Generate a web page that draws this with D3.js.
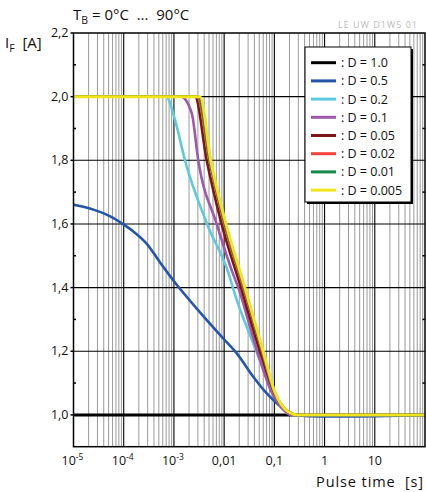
<!DOCTYPE html>
<html>
<head>
<meta charset="utf-8">
<script src="https://d3js.org/d3.v7.min.js"></script>
<style>
  body { margin: 0; background: #fff; }
  text { font-family: "Open Sans", "DejaVu Sans", sans-serif; fill: #111; white-space: pre; }
</style>
</head>
<body>
<script>
// pulse time [s] / forward current [A]
var d10 = [[1e-5, 1.0], [100, 1.0]];
var d05 = [[1e-5, 1.66], [2.5e-5, 1.645], [5.4e-5, 1.624], [1e-4, 1.598], [1.6e-4, 1.575],
  [2.8e-4, 1.54], [5.3e-4, 1.479], [1e-3, 1.42], [3.85e-3, 1.31], [9.6e-3, 1.24],
  [0.0177, 1.194], [0.038, 1.12], [0.07, 1.068], [0.111, 1.037], [0.175, 1.01], [0.26, 1.0], [100, 1.0]];
var d02 = [[1e-5, 2.0], [7.0e-4, 2.0], [1.05e-3, 1.927], [1.66e-3, 1.80], [4.57e-3, 1.60],
  [0.0129, 1.434], [0.0152, 1.395], [0.038, 1.225], [0.07, 1.12],
  [0.0946, 1.068], [0.139, 1.026], [0.223, 1.0], [0.3, 1.0]];
var d01 = [[1e-5, 2.0], [1.38e-3, 2.0], [2.26e-3, 1.948], [3.05e-3, 1.80], [7.1e-3, 1.60],
  [0.0141, 1.455], [0.0191, 1.40], [0.0455, 1.20], [0.089, 1.07], [0.128, 1.03], [0.223, 1.0], [0.3, 1.0]];
var d005 = [[1e-5, 2.0], [2.63e-3, 2.0], [4.49e-3, 1.80], [8.9e-3, 1.60], [0.0216, 1.40],
  [0.0515, 1.20], [0.1, 1.07], [0.188, 1.01], [0.28, 1.0], [0.3, 1.0]];
var d002 = [[1e-5, 2.0], [2.92e-3, 2.0], [5.06e-3, 1.80], [0.01, 1.60], [0.0241, 1.40],
  [0.0565, 1.20], [0.1, 1.072], [0.188, 1.01], [0.29, 1.0], [0.3, 1.0]];
var d001 = [[1e-5, 2.0], [3.1e-3, 2.0], [5.2e-3, 1.80], [0.0104, 1.60], [0.025, 1.40],
  [0.058, 1.20], [0.1, 1.073], [0.188, 1.01], [0.29, 1.0], [0.3, 1.0]];
var d0005 = [[1e-5, 2.0], [3.3e-3, 2.0], [5.4e-3, 1.80], [0.01087, 1.60], [0.0259, 1.40],
  [0.0598, 1.20], [0.102, 1.073], [0.188, 1.01], [0.293, 1.0], [100, 1.0]];

var seriesNames = ["D = 1.0", "D = 0.5", "D = 0.2", "D = 0.1", "D = 0.05", "D = 0.02", "D = 0.01", "D = 0.005"];
var seriesData = [d10, d05, d02, d01, d005, d002, d001, d0005];
var seriesColors = ["#000000", "#2455a8", "#5ccbdd", "#9e59ad", "#7b1518", "#f0413a", "#168a48", "#f2e41c"];

var yTicks = [1.0, 1.2, 1.4, 1.6, 1.8, 2.0, 2.2];
var yMinor = [1.1, 1.3, 1.5, 1.7, 1.9, 2.1];
var xDecades = [1e-5, 1e-4, 1e-3, 0.01, 0.1, 1, 10, 100];
var xLabels = [["10", "-5"], ["10", "-4"], ["10", "-3"], ["0,01", ""], ["0,1", ""], ["1", ""], ["10", ""]];

var W = 426, H = 492;
var pL = 73.5, pR = 425, pT = 33, pB = 446.7;

var svg = d3.select("body").append("svg")
  .attr("width", W).attr("height", H);

var x = d3.scaleLog().domain([1e-5, 100]).range([pL, pR]);
var y = d3.scaleLinear().domain([0.9, 2.2]).range([pB, pT]);

// minor vertical grid
var minor = [];
xDecades.slice(0, -1).forEach(function(d) {
  for (var k = 2; k <= 9; k++) minor.push(d * k);
});
svg.append("g").selectAll("line").data(minor).enter().append("line")
  .attr("x1", function(d) { return x(d); }).attr("x2", function(d) { return x(d); })
  .attr("y1", pT).attr("y2", pB)
  .attr("stroke", "#9a9a9a").attr("stroke-width", 1);

// decade lines
svg.append("g").selectAll("line").data(xDecades.slice(1, -1)).enter().append("line")
  .attr("x1", function(d) { return x(d); }).attr("x2", function(d) { return x(d); })
  .attr("y1", pT).attr("y2", pB)
  .attr("stroke", "#000").attr("stroke-width", 1.1);

// horizontal grid
svg.append("g").selectAll("line").data(yTicks.slice(1, -1)).enter().append("line")
  .attr("x1", pL).attr("x2", pR)
  .attr("y1", function(d) { return y(d); }).attr("y2", function(d) { return y(d); })
  .attr("stroke", "#000").attr("stroke-width", 1.1);

// ticks
svg.append("g").selectAll("line").data(yTicks).enter().append("line")
  .attr("x1", pL - 3).attr("x2", pL)
  .attr("y1", function(d) { return y(d); }).attr("y2", function(d) { return y(d); })
  .attr("stroke", "#000").attr("stroke-width", 1.5);
svg.append("g").selectAll("line").data(yMinor).enter().append("line")
  .attr("x1", pL).attr("x2", pL + 2.5)
  .attr("y1", function(d) { return y(d); }).attr("y2", function(d) { return y(d); })
  .attr("stroke", "#000").attr("stroke-width", 1.5);
svg.append("g").selectAll("line").data(yMinor).enter().append("line")
  .attr("x1", pR - 2.5).attr("x2", pR)
  .attr("y1", function(d) { return y(d); }).attr("y2", function(d) { return y(d); })
  .attr("stroke", "#000").attr("stroke-width", 1.5);

// curves - the D=0.5 one is smooth, the rest have a knee at 2.0 A
var line = d3.line()
  .x(function(d) { return x(d[0]); })
  .y(function(d) { return y(d[1]); })
  .curve(d3.curveMonotoneX);
var smooth = d3.line()
  .x(function(d) { return x(d[0]); })
  .y(function(d) { return y(d[1]); })
  .curve(d3.curveCatmullRom.alpha(0.5));

svg.append("g").selectAll("path").data(seriesData).enter().append("path")
  .attr("d", function(d, i) { return i === 1 ? smooth(d) : line(d); })
  .attr("fill", "none")
  .attr("stroke", function(d, i) { return seriesColors[i]; })
  .attr("stroke-width", function(d, i) { return i === 0 || i === 7 ? 3 : 2.6; })
  .attr("stroke-linejoin", "round");

// frame
svg.append("rect")
  .attr("x", pL).attr("y", pT)
  .attr("width", pR - pL).attr("height", pB - pT)
  .attr("fill", "none").attr("stroke", "#000").attr("stroke-width", 1.5);

// y labels
svg.append("g").selectAll("text").data(yTicks).enter().append("text")
  .attr("x", pL - 5).attr("y", function(d) { return y(d) + 4; })
  .attr("text-anchor", "end").attr("font-size", 12.5)
  .text(function(d) { return d.toFixed(1).replace(".", ","); });

// x labels
var xl = svg.append("g").selectAll("text").data(xLabels).enter().append("text")
  .attr("x", function(d, i) { return x(xDecades[i]) + (d[1] ? -1 : 0); })
  .attr("y", 465)
  .attr("text-anchor", "middle").attr("font-size", 12.5);
xl.append("tspan").text(function(d) { return d[0]; });
xl.append("tspan").attr("dy", -5).attr("font-size", 8.5).text(function(d) { return d[1]; });

// axis titles
var tt = svg.append("text").attr("x", 73).attr("y", 20).attr("font-size", 15);
tt.append("tspan").text("T");
tt.append("tspan").attr("dy", 4).attr("font-size", 10.5).text("B");
tt.append("tspan").attr("dy", -4).text(" = 0°C  ...  90°C");

var yt = svg.append("text").attr("x", 5).attr("y", 48).attr("font-size", 15);
yt.append("tspan").text("I");
yt.append("tspan").attr("dy", 4).attr("font-size", 10.5).text("F");
yt.append("tspan").attr("dy", -4).text("  [A]");

svg.append("text").attr("x", 424).attr("y", 487)
  .attr("text-anchor", "end").attr("font-size", 14.5).attr("letter-spacing", 0.9)
  .text("Pulse time  [s]");

svg.append("text").attr("x", 418).attr("y", 28)
  .attr("text-anchor", "end").attr("font-size", 9).attr("letter-spacing", 1)
  .style("fill", "#bbbbbb")
  .text("LE UW D1W5 01");

// legend
var lg = svg.append("g").attr("transform", "translate(305,47)");
lg.append("rect").attr("x", 2).attr("y", 2).attr("width", 106).attr("height", 155).attr("fill", "#000");
lg.append("rect").attr("width", 106).attr("height", 155)
  .attr("fill", "#fff").attr("stroke", "#000").attr("stroke-width", 1);
var item = lg.selectAll("g.item").data(seriesNames).enter().append("g")
  .attr("class", "item")
  .attr("transform", function(d, i) { return "translate(0," + (15.7 + i * 18.2) + ")"; });
item.append("line").attr("x1", 6).attr("x2", 31).attr("y1", 0).attr("y2", 0)
  .attr("stroke", function(d, i) { return seriesColors[i]; }).attr("stroke-width", 3);
item.append("text").attr("x", 36).attr("y", 4.5).attr("font-size", 12.5)
  .text(function(d) { return ": " + d; });
</script>
</body>
</html>
